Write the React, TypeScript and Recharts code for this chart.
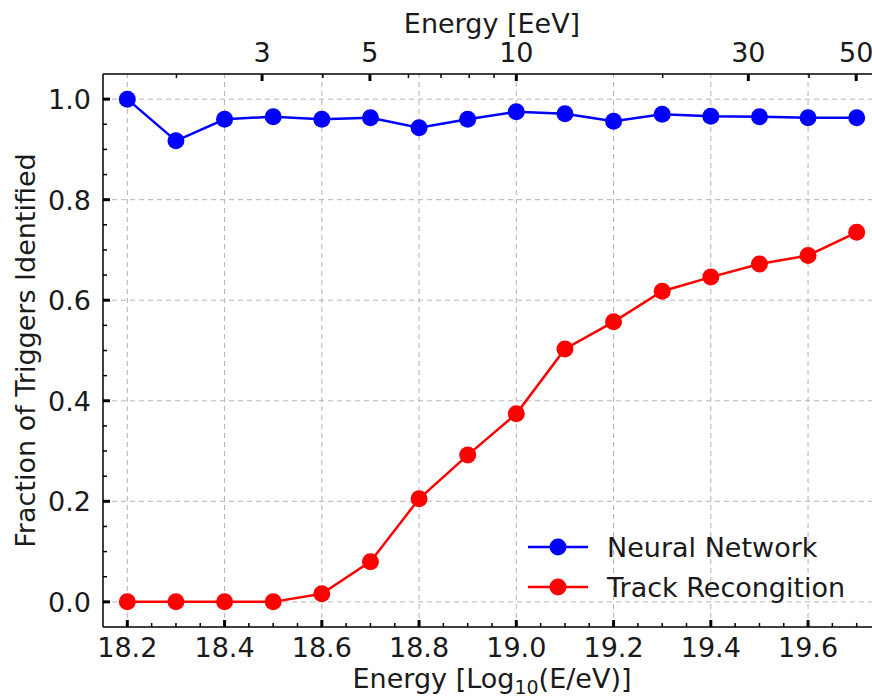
import React from 'react';
import { LineChart, Line, XAxis, YAxis, ReferenceLine, Legend } from 'recharts';

// log10(E/eV) bins
const logEnergy = [18.2, 18.3, 18.4, 18.5, 18.6, 18.7, 18.8, 18.9, 19.0, 19.1, 19.2, 19.3, 19.4, 19.5, 19.6, 19.7];
const neuralNetwork = [1.0, 0.917, 0.96, 0.965, 0.96, 0.963, 0.943, 0.96, 0.975, 0.971, 0.956, 0.97, 0.966, 0.965, 0.963, 0.963];
const trackRecognition = [0.0, 0.0, 0.0, 0.0, 0.016, 0.08, 0.205, 0.292, 0.374, 0.503, 0.557, 0.618, 0.646, 0.672, 0.689, 0.735];

const xMajorTicks = [18.2, 18.4, 18.6, 18.8, 19.0, 19.2, 19.4, 19.6];
const xMinorTicks = [18.25, 18.3, 18.35, 18.45, 18.5, 18.55, 18.65, 18.7, 18.75, 18.85, 18.9, 18.95, 19.05, 19.1, 19.15, 19.25, 19.3, 19.35, 19.45, 19.5, 19.55, 19.65, 19.7];
const yMajorTicks = [0.0, 0.2, 0.4, 0.6, 0.8, 1.0];
const yMinorTicks = [0.05, 0.1, 0.15, 0.25, 0.3, 0.35, 0.45, 0.5, 0.55, 0.65, 0.7, 0.75, 0.85, 0.9, 0.95];
// secondary axis, energy in EeV
const eevMajor = [3, 5, 10, 30, 50];
const eevMinor = [2, 4, 6, 7, 8, 9, 20, 40];

const FONT = '"DejaVu Sans", sans-serif';
const TEXT = '#1a1a1a';
const GRID = '#b4b4b4';

const data = logEnergy.map((e, i) => ({ e, nn: neuralNetwork[i], tr: trackRecognition[i] }));
const toLog = (eev: number) => 18 + Math.log10(eev);
const topTicks = [...eevMajor, ...eevMinor].map(toLog);

const near = (a: number, list: number[]) => list.some((v) => Math.abs(v - a) < 1e-6);

const BottomTick = (props: any) => {
  const { x, y, payload } = props;
  const major = near(payload.value, xMajorTicks);
  return (
    <g>
      <line x1={x} x2={x} y1={y} y2={y - (major ? 7 : 4)} stroke="#000" strokeWidth={major ? 3 : 1.5} />
      {major && (
        <text x={x} y={y + 30} textAnchor="middle" fontSize={27} fontFamily={FONT} fill={TEXT}>
          {payload.value.toFixed(1)}
        </text>
      )}
    </g>
  );
};

const TopTick = (props: any) => {
  const { x, y, payload } = props;
  const eev = Math.round(Math.pow(10, payload.value - 18));
  const major = eevMajor.includes(eev);
  return (
    <g>
      <line x1={x} x2={x} y1={y} y2={y + (major ? 7 : 4)} stroke="#000" strokeWidth={major ? 3 : 1.5} />
      {major && (
        <text x={x} y={y - 12} textAnchor="middle" fontSize={27} fontFamily={FONT} fill={TEXT}>
          {eev}
        </text>
      )}
    </g>
  );
};

const LeftTick = (props: any) => {
  const { x, y, payload } = props;
  const major = near(payload.value, yMajorTicks);
  return (
    <g>
      <line x1={x} x2={x + (major ? 7 : 4)} y1={y} y2={y} stroke="#000" strokeWidth={major ? 3 : 1.5} />
      {major && (
        <text x={x - 12} y={y + 10} textAnchor="end" fontSize={27} fontFamily={FONT} fill={TEXT}>
          {payload.value.toFixed(1)}
        </text>
      )}
    </g>
  );
};

const LegendContent = (props: any) => {
  const { payload } = props;
  return (
    <div style={{ fontFamily: FONT, fontSize: 27, color: TEXT }}>
      {payload.map((p: any) => (
        <div key={p.value} style={{ display: 'flex', alignItems: 'center', height: 40 }}>
          <svg width={60} height={40} style={{ display: 'block' }}>
            <line x1={0} x2={60} y1={20} y2={20} stroke={p.color} strokeWidth={2.5} />
            <circle cx={30} cy={20} r={8.5} fill={p.color} />
          </svg>
          <span style={{ marginLeft: 19, whiteSpace: 'nowrap' }}>{p.value}</span>
        </div>
      ))}
    </div>
  );
};

export default function App() {
  return (
    <div style={{ position: 'absolute', left: 0, top: 0, width: 872, height: 699, overflow: 'hidden', background: '#fff' }}>
      <LineChart width={881} height={699} data={data} margin={{ top: 0, right: 0, bottom: 0, left: 0 }}>
        {xMajorTicks.map((v) => (
          <ReferenceLine key={'gx' + v} x={v} xAxisId="bottom" stroke={GRID} strokeDasharray="5 4" strokeWidth={1} />
        ))}
        {yMajorTicks.map((v) => (
          <ReferenceLine key={'gy' + v} y={v} xAxisId="bottom" stroke={GRID} strokeDasharray="5 4" strokeWidth={1} />
        ))}
        <XAxis
          xAxisId="bottom"
          dataKey="e"
          type="number"
          orientation="bottom"
          domain={[18.15, 19.75]}
          allowDataOverflow
          ticks={[...xMajorTicks, ...xMinorTicks]}
          interval={0}
          height={72}
          tickSize={0}
          tickMargin={0}
          tickLine={false}
          axisLine={{ stroke: '#000', strokeWidth: 1.5 }}
          tick={<BottomTick />}
          label={(p: any) => {
            const vb = p.viewBox || { x: 103, y: 627, width: 778 };
            return (
              <text x={vb.x + vb.width / 2} y={688} textAnchor="middle" fontSize={27} fontFamily={FONT} fill={TEXT}>
                Energy [Log<tspan fontSize={19} dy={6}>10</tspan>
                <tspan dy={-6}>(E/eV)]</tspan>
              </text>
            );
          }}
        />
        <XAxis
          xAxisId="top"
          dataKey="e"
          type="number"
          orientation="top"
          domain={[18.15, 19.75]}
          allowDataOverflow
          ticks={topTicks}
          interval={0}
          height={74}
          tickSize={0}
          tickMargin={0}
          tickLine={false}
          axisLine={{ stroke: '#000', strokeWidth: 1.5 }}
          tick={<TopTick />}
          label={(p: any) => {
            const vb = p.viewBox || { x: 103, y: 0, width: 778 };
            return (
              <text x={vb.x + vb.width / 2} y={33} textAnchor="middle" fontSize={27} fontFamily={FONT} fill={TEXT}>
                Energy [EeV]
              </text>
            );
          }}
        />
        <YAxis
          type="number"
          domain={[-0.05, 1.05]}
          allowDataOverflow
          ticks={[...yMajorTicks, ...yMinorTicks]}
          interval={0}
          width={103}
          tickSize={0}
          tickMargin={0}
          tickLine={false}
          axisLine={{ stroke: '#000', strokeWidth: 1.5 }}
          tick={<LeftTick />}
          label={(p: any) => {
            const vb = p.viewBox || { x: 0, y: 74, height: 553 };
            const cy = vb.y + vb.height / 2;
            return (
              <text x={25} y={cy} transform={`rotate(-90, 25, ${cy})`} textAnchor="middle" dominantBaseline="central" fontSize={27} fontFamily={FONT} fill={TEXT}>
                Fraction of Triggers Identified
              </text>
            );
          }}
        />
        <Line
          xAxisId="bottom"
          dataKey="nn"
          name="Neural Network"
          stroke="#0000ff"
          strokeWidth={2.5}
          dot={{ r: 8.5, fill: '#0000ff', stroke: '#0000ff', strokeWidth: 0 }}
          activeDot={false}
          isAnimationActive={false}
        />
        <Line
          xAxisId="bottom"
          dataKey="tr"
          name="Track Recongition"
          stroke="#ff0000"
          strokeWidth={2.5}
          dot={{ r: 8.5, fill: '#ff0000', stroke: '#ff0000', strokeWidth: 0 }}
          activeDot={false}
          isAnimationActive={false}
        />
        <Legend
          layout="vertical"
          align="center"
          verticalAlign="middle"
          content={<LegendContent />}
          wrapperStyle={{ position: 'absolute', left: 528, top: 527, width: 'auto', bottom: 'auto' }}
        />
      </LineChart>
    </div>
  );
}
